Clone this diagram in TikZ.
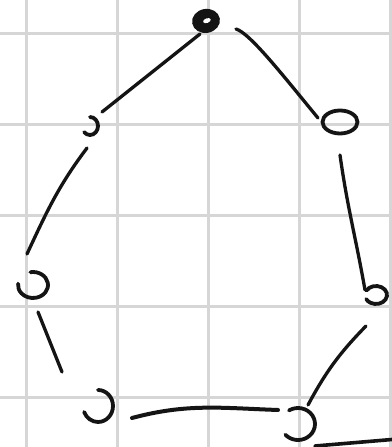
\documentclass[tikz,border=0pt]{standalone}
\usetikzlibrary{calc}
\definecolor{gridgray}{HTML}{D6D6D6}
\tikzset{
  gridline/.style={draw=gridgray, line width=2.6pt},
  edge/.style={draw=black!92, line width=3.3pt, line cap=round},
  ring/.style={draw=black!92, line width=3.8pt, line cap=round},
}
\begin{document}
\begin{tikzpicture}[x=1pt,y=1pt]
\useasboundingbox (0,0) rectangle (391,447);
\fill[white] (0,0) rectangle (391,447);
% grid
\foreach \gx in {26.7,117.6,208.5,299.4,390.3} \draw[gridline] (\gx,0) -- (\gx,447);
\foreach \gy in {413.3,322.4,231.5,140.6,49.7} \draw[gridline] (0,\gy) -- (391,\gy);
% nodes
\coordinate (top) at (206,426);
\coordinate (ul) at (90,321);
\coordinate (ur) at (340,325);
\coordinate (ml) at (33,162);
\coordinate (mr) at (376,152);
\coordinate (bl) at (98,41);
\coordinate (br) at (298,23);
\coordinate (off) at (392,7.5);
% node shapes
\fill[black!92, rotate around={10:(top)}] (top) ellipse [x radius=14, y radius=12];
\fill[white, rotate around={20:(top)}] ($(top)+(1,0)$) ellipse [x radius=4, y radius=2.3];
\draw[ring] ($(ul)+(90:8 and 9)$) arc[start angle=90, end angle=-137, x radius=8, y radius=9];
\draw[ring] (ur) ellipse [x radius=17.5, y radius=11.5];
\draw[ring] ($(ml)+(100:15 and 13)$) arc[start angle=100, end angle=-186, x radius=15, y radius=13];
\draw[ring] ($(mr)+(150:11 and 9)$) arc[start angle=150, end angle=-153, x radius=11, y radius=9];
\draw[ring] ($(bl)+(90:15 and 16)$) arc[start angle=90, end angle=-158, x radius=15, y radius=16];
\draw[ring] ($(br)+(122:17 and 16)$) arc[start angle=122, end angle=-138, x radius=17, y radius=16];
% edges
\draw[edge] ($(top)+(-6,-13)$) -- ($(ul)+(12,14)$);
\draw[edge] ($(top)+(30,-8)$) .. controls ($(top)+(44,-12)$) and ($(ur)+(-55,44)$) .. ($(ur)+(-22,4)$);
\draw[edge] ($(ul)+(-3,-22)$) to[out=233, in=65] ($(ml)+(-6,31)$);
\draw[edge] ($(ur)+(0,-33)$) to[out=-82, in=100] ($(mr)+(-11,5)$);
\draw[edge] ($(ml)+(5,-27)$) -- ($(bl)+(-36,34)$);
\draw[edge] ($(mr)+(-10,-31)$) to[bend right=8] ($(br)+(10,19)$);
\draw[edge, line width=4pt] ($(bl)+(34,-12)$) to[out=15, in=178] ($(br)+(-20,14)$);
\draw[edge, line width=3.6pt] ($(br)+(17,-22)$) -- (off);
\end{tikzpicture}
\end{document}
